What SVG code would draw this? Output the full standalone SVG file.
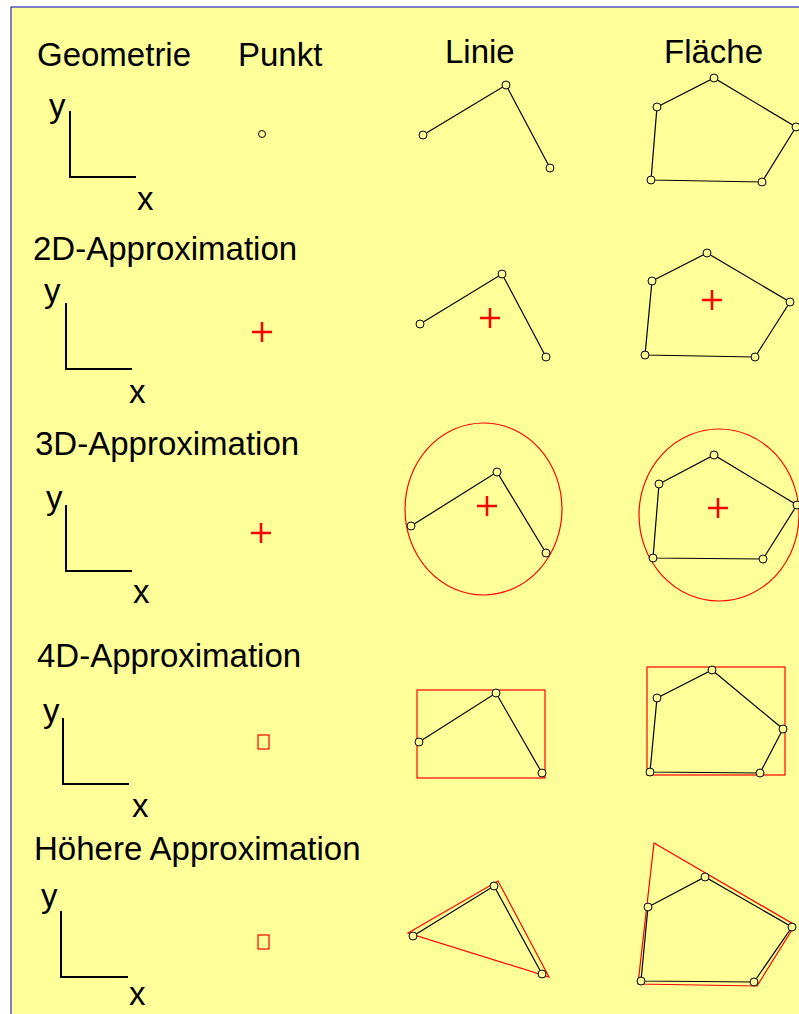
<svg xmlns="http://www.w3.org/2000/svg" width="799" height="1014" viewBox="0 0 799 1014">
<style>
text{font-family:"Liberation Sans",Arial,sans-serif;font-size:33px;fill:#000}
.ax{fill:none;stroke:#000;stroke-width:2}
.ln{fill:none;stroke:#000;stroke-width:1.2}
.pt{fill:#ffff99;stroke:#000;stroke-width:1}
.rd{fill:none;stroke:#f00;stroke-width:1.2}
.cr{fill:none;stroke:#f00;stroke-width:2.5}
</style>
<defs>
<path id="plus" d="M-10,0H10M0,-10V10" class="cr"/>
</defs>
<rect x="0" y="0" width="799" height="1014" fill="#fff"/>
<rect x="11" y="7" width="800" height="1020" fill="#ffff99" stroke="#0000c8" stroke-width="1"/>

<g id="headers">
<text x="37" y="66">Geometrie</text>
<text x="238" y="66">Punkt</text>
<text x="445" y="63">Linie</text>
<text x="664" y="63">Fläche</text>
<text x="33" y="260">2D-Approximation</text>
<text x="35" y="455">3D-Approximation</text>
<text x="37" y="667">4D-Approximation</text>
<text x="34" y="860">Höhere Approximation</text>
</g>

<g id="axes">
<g id="axis1"><text x="49" y="117">y</text><path class="ax" d="M70,111V177H136"/><text x="137" y="210">x</text></g>
<g id="axis2"><text x="44" y="302">y</text><path class="ax" d="M66,303V369H132"/><text x="129" y="403">x</text></g>
<g id="axis3"><text x="46" y="509">y</text><path class="ax" d="M66,505V571H132"/><text x="133" y="603">x</text></g>
<g id="axis4"><text x="43" y="722">y</text><path class="ax" d="M63,718V784H129"/><text x="132" y="817">x</text></g>
<g id="axis5"><text x="41" y="907">y</text><path class="ax" d="M61,911V977H128"/><text x="129" y="1005">x</text></g>
</g>

<g id="punkt">
<circle class="pt" cx="262" cy="134" r="3.5"/>
<use href="#plus" x="262" y="332"/>
<use href="#plus" x="261" y="533"/>
<rect class="rd" x="258" y="735" width="11" height="14" stroke-width="1"/>
<rect class="rd" x="258" y="935" width="11" height="14" stroke-width="1"/>
</g>

<g id="linie1">
<polyline class="ln" points="423,135 506,85 550,168"/>
<circle class="pt" cx="423" cy="135" r="4"/><circle class="pt" cx="506" cy="85" r="4"/><circle class="pt" cx="550" cy="168" r="4"/>
</g>
<g id="flaeche1">
<polygon class="ln" points="657,107 714,78 796,127 762,182 651,180"/>
<circle class="pt" cx="657" cy="107" r="4"/><circle class="pt" cx="714" cy="78" r="4"/><circle class="pt" cx="796" cy="127" r="4"/><circle class="pt" cx="762" cy="182" r="4"/><circle class="pt" cx="651" cy="180" r="4"/>
</g>

<g id="linie2">
<polyline class="ln" points="420,324 502,274 546,357"/>
<use href="#plus" x="490" y="318"/>
<circle class="pt" cx="420" cy="324" r="4"/><circle class="pt" cx="502" cy="274" r="4"/><circle class="pt" cx="546" cy="357" r="4"/>
</g>
<g id="flaeche2">
<polygon class="ln" points="652,281 707,253 790,302 755,357 645,355"/>
<use href="#plus" x="712" y="300"/>
<circle class="pt" cx="652" cy="281" r="4"/><circle class="pt" cx="707" cy="253" r="4"/><circle class="pt" cx="790" cy="302" r="4"/><circle class="pt" cx="755" cy="357" r="4"/><circle class="pt" cx="645" cy="355" r="4"/>
</g>

<g id="linie3">
<ellipse class="rd" cx="483.5" cy="509" rx="78.5" ry="86"/>
<polyline class="ln" points="411,526 497,472 546,553"/>
<use href="#plus" x="487" y="506"/>
<circle class="pt" cx="411" cy="526" r="4"/><circle class="pt" cx="497" cy="472" r="4"/><circle class="pt" cx="546" cy="553" r="4"/>
</g>
<g id="flaeche3">
<ellipse class="rd" cx="719" cy="515" rx="80" ry="86"/>
<polygon class="ln" points="659,484 714,455 797,505 763,559 653,558"/>
<use href="#plus" x="718" y="508"/>
<circle class="pt" cx="659" cy="484" r="4"/><circle class="pt" cx="714" cy="455" r="4"/><circle class="pt" cx="797" cy="505" r="4"/><circle class="pt" cx="763" cy="559" r="4"/><circle class="pt" cx="653" cy="558" r="4"/>
</g>

<g id="linie4">
<rect class="rd" x="417" y="690" width="128" height="88"/>
<polyline class="ln" points="419,742 496,693 542,773"/>
<circle class="pt" cx="419" cy="742" r="4"/><circle class="pt" cx="496" cy="693" r="4"/><circle class="pt" cx="542" cy="773" r="4"/>
</g>
<g id="flaeche4">
<rect class="rd" x="647" y="667" width="138" height="108"/>
<polygon class="ln" points="657,698 712,670 783,729 760,773 650,772"/>
<circle class="pt" cx="657" cy="698" r="4"/><circle class="pt" cx="712" cy="670" r="4"/><circle class="pt" cx="783" cy="729" r="4"/><circle class="pt" cx="760" cy="773" r="4"/><circle class="pt" cx="650" cy="772" r="4"/>
</g>

<g id="linie5">
<polygon class="rd" points="408,933 498,881 549,977"/>
<polyline class="ln" points="413,936 494,886 542,974"/>
<circle class="pt" cx="413" cy="936" r="4"/><circle class="pt" cx="494" cy="886" r="4"/><circle class="pt" cx="542" cy="974" r="4"/>
</g>
<g id="flaeche5">
<polygon class="rd" points="654,843 795,925 757,986 638,984"/>
<polygon class="ln" points="648,907 705,877 792,927 754,982 641,981"/>
<circle class="pt" cx="648" cy="907" r="4"/><circle class="pt" cx="705" cy="877" r="4"/><circle class="pt" cx="792" cy="927" r="4"/><circle class="pt" cx="754" cy="982" r="4"/><circle class="pt" cx="641" cy="981" r="4"/>
</g>
</svg>
